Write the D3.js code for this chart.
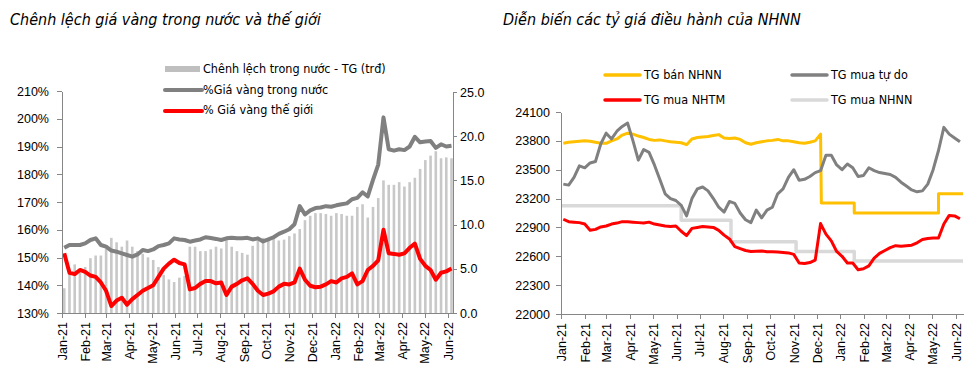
<!DOCTYPE html>
<html><head><meta charset="utf-8">
<script src="https://cdn.jsdelivr.net/npm/d3@7"></script>
<style>
body{margin:0;background:#fff;}
svg{display:block;font-family:"Liberation Sans Narrow","Arial Narrow","DejaVu Sans Condensed",sans-serif;}
.axis path,.axis line{stroke:#868686;stroke-width:1;shape-rendering:crispEdges;}
.axis text{fill:#000;font-size:12.5px;}
</style></head>
<body><div id="chart"></div>
<script>
// ---------- weekly dates (Mondays) Jan 4 2021 .. Jun 6 2022 ----------
const weeks = d3.timeMonday.range(new Date(2021,0,4), new Date(2022,5,7));
const monthTicks = d3.timeMonth.range(new Date(2021,0,1), new Date(2022,5,2));

// ---------- left chart data ----------
const domesticPct = [153.5,154.5,154.5,154.5,155.1,156.3,156.9,154.5,153.9,152.5,
152.1,151.5,150.9,150.3,151.1,152.7,152.3,152.9,154.1,154.5,
155.1,156.9,156.5,156.3,155.7,156.1,156.5,157.3,157.0,156.7,
156.3,156.9,157.1,156.9,156.9,157.1,156.5,156.9,
155.8,156.5,157.3,158.5,159.3,160.2,162.0,168.5,165.5,167.0,
167.8,168.0,168.5,168.3,168.8,169.2,169.5,171.0,171.5,173.5,
172.0,178.0,183.5,200.5,189.0,188.5,189.0,188.7,190.0,193.5,
191.5,191.8,192.0,189.5,190.8,190.0,190.3];
const worldPct = [151.5,144.5,144.0,145.5,144.8,143.5,143.0,141.0,138.0,132.5,
134.5,135.5,133.0,135.0,136.5,138.0,139.0,140.0,143.0,146.0,
147.8,149.2,148.0,147.5,138.5,139.0,140.5,141.5,141.5,140.7,
141.0,136.5,139.5,140.5,141.8,142.5,140.5,138.0,
136.5,137.0,137.8,139.5,140.5,140.3,141.0,146.0,142.0,139.8,
139.3,139.5,140.3,141.5,141.0,142.5,143.0,144.3,140.3,141.5,
145.5,147.0,149.0,160.0,151.5,151.3,151.0,151.5,153.5,155.0,
149.5,147.0,145.5,142.0,144.5,145.0,146.0];
const spreadBars = [2.8,5.0,5.5,4.8,5.2,6.2,6.5,6.5,7.3,8.5,
8.0,7.5,8.2,7.5,7.0,6.7,6.3,6.0,5.2,4.3,
3.8,3.5,4.0,4.2,7.5,7.5,7.0,7.0,7.2,7.5,
7.3,8.5,7.5,7.0,6.8,6.6,7.6,8.3,
8.5,8.5,8.5,8.2,8.3,8.7,9.0,9.5,10.5,11.0,
11.3,11.3,11.2,11.0,11.3,11.2,11.0,11.0,12.0,12.3,
10.8,12.0,13.0,15.0,14.5,14.5,14.8,14.3,14.8,15.3,
16.3,17.3,17.8,18.3,17.5,17.6,17.5];
const leftTicksPct = [130,140,150,160,170,180,190,200,210];
const rightTicksTrd = [0,5,10,15,20,25];

// ---------- right chart data ----------
const sellRateDaily = [23775,23785,23790,23795,23800,23795,23785,23775,23775,23800,
23820,23860,23880,23870,23850,23835,23815,23805,23810,23800,
23790,23785,23780,23760,23820,23835,23840,23845,23855,23865,
23830,23825,23830,23815,23780,23765,23780,23790,23800,23805,
23815,23800,23800,23790,23780,23775,23785,23800,23870];
const sellStepDates = ["2021-12-07","2022-01-19","2022-05-09","2022-06-10"];
const sellStepValues = [23155,23050,23250,23250];
const freeRate = [23350,23340,23420,23540,23520,23570,23585,23770,23880,23820,
23900,23950,23985,23800,23600,23710,23680,23550,23400,23250,
23200,23180,23130,23020,23200,23300,23320,23280,23200,23110,
23060,23170,23150,23050,22980,22950,23080,23000,23080,23110,
23250,23300,23420,23500,23390,23400,23430,23470,23490,23650,
23650,23550,23500,23560,23520,23430,23440,23520,23490,23470,
23460,23450,23420,23370,23330,23290,23270,23280,23350,23500,
23700,23940,23870,23830,23790];
const bankRate = [22985,22960,22955,22950,22935,22870,22880,22905,22915,22935,
22945,22960,22960,22955,22950,22945,22955,22935,22925,22915,
22910,22915,22860,22815,22890,22900,22910,22905,22900,22870,
22820,22780,22700,22680,22660,22650,22652,22655,22648,22646,
22645,22640,22635,22620,22530,22525,22535,22560,22940,22830,
22760,22650,22600,22530,22530,22460,22470,22500,22580,22630,
22660,22690,22710,22705,22710,22715,22740,22775,22785,22790,
22790,22935,23025,23020,22990];
const sbvBuyDates = ["2021-01-01","2021-06-07","2021-08-11","2021-11-04","2022-01-19","2022-06-10"];
const sbvBuyValues = [23125,22975,22750,22650,22550,22550];
const rateTicks = [22000,22300,22600,22900,23200,23500,23800,24100];

const parse = d3.timeParse("%Y-%m-%d");
const fmtMonth = d3.timeFormat("%b-%y");

const svg = d3.select("#chart").append("svg").attr("width",974).attr("height",371);

// ================= LEFT CHART =================
const xL = d3.scaleTime().domain([new Date(2021,0,1), new Date(2022,5,8)]).range([62,453]);
const yL = d3.scaleLinear().domain([130,210]).range([313,91]);
const yR = d3.scaleLinear().domain([0,25]).range([313,92]);

svg.append("text").attr("x",10).attr("y",25).attr("font-size",16).attr("font-style","italic")
  .text("Chênh lệch giá vàng trong nước và thế giới");

const gL = svg.append("g");
gL.selectAll("rect.bar").data(weeks).join("rect").attr("class","bar")
  .attr("x",d=>xL(d)-1.3).attr("width",2.6)
  .attr("y",(d,i)=>yR(spreadBars[i])).attr("height",(d,i)=>yR(0)-yR(spreadBars[i]))
  .attr("fill","#c8c8c8");

const lineL = arr => d3.line().x((d,i)=>xL(weeks[i])).y((d,i)=>yL(arr[i]))(arr);
gL.append("path").attr("d",lineL(domesticPct)).attr("fill","none").attr("stroke","#808080").attr("stroke-width",4).attr("stroke-linejoin","round");
gL.append("path").attr("d",lineL(worldPct)).attr("fill","none").attr("stroke","#ff0000").attr("stroke-width",4).attr("stroke-linejoin","round");

const axXL = svg.append("g").attr("class","axis").attr("transform","translate(0,313)")
  .call(d3.axisBottom(xL).tickValues(monthTicks).tickFormat(fmtMonth).tickSize(5).tickSizeOuter(0));
axXL.selectAll("text").attr("transform","rotate(-90)").attr("x",-9).attr("y",0).attr("dy","0.35em").style("text-anchor","end");
svg.append("g").attr("class","axis").attr("transform","translate(62,0)")
  .call(d3.axisLeft(yL).tickValues(leftTicksPct).tickFormat(d=>d+"%").tickSize(5).tickPadding(8).tickSizeOuter(0));
svg.append("g").attr("class","axis").attr("transform","translate(453,0)")
  .call(d3.axisRight(yR).tickValues(rightTicksTrd).tickFormat(d3.format(".1f")).tickSize(4).tickPadding(3).tickSizeOuter(0));

// left legend
const legL = svg.append("g").attr("font-size",12.5);
legL.append("rect").attr("x",165).attr("y",66).attr("width",35).attr("height",6).attr("fill","#bfbfbf");
legL.append("text").attr("x",203).attr("y",69).attr("dy","0.35em").text("Chênh lệch trong nước - TG (trđ)");
legL.append("line").attr("x1",165).attr("x2",202).attr("y1",90).attr("y2",90).attr("stroke","#808080").attr("stroke-width",4).attr("stroke-linecap","round");
legL.append("text").attr("x",203).attr("y",90).attr("dy","0.35em").text("%Giá vàng trong nước");
legL.append("line").attr("x1",165).attr("x2",202).attr("y1",111).attr("y2",111).attr("stroke","#ff0000").attr("stroke-width",4).attr("stroke-linecap","round");
legL.append("text").attr("x",203).attr("y",110).attr("dy","0.35em").text("% Giá vàng thế giới");

// ================= RIGHT CHART =================
const xR = d3.scaleTime().domain([new Date(2021,0,1), new Date(2022,5,10)]).range([561,963]);
const yT = d3.scaleLinear().domain([22000,24100]).range([314,112]);

svg.append("text").attr("x",503).attr("y",25).attr("font-size",16).attr("font-style","italic")
  .text("Diễn biến các tỷ giá điều hành của NHNN");

const stepPts = (dates, vals) => {
  const pts = [];
  for (let i=0;i<dates.length;i++){
    pts.push([parse(dates[i]), vals[i]]);
    if (i<dates.length-1) pts.push([parse(dates[i+1]), vals[i]]);
  }
  return pts;
};
const lineR = d3.line().x(d=>xR(d[0])).y(d=>yT(d[1]));
const gR = svg.append("g").attr("fill","none").attr("stroke-width",3).attr("stroke-linejoin","round");

// TG mua NHNN (step)
gR.append("path").attr("d",lineR(stepPts(sbvBuyDates,sbvBuyValues))).attr("stroke","#d9d9d9").attr("stroke-width",3.5);
// TG bán NHNN
const sellPts = weeks.slice(0,sellRateDaily.length).map((d,i)=>[d,sellRateDaily[i]]).concat(stepPts(sellStepDates,sellStepValues));
gR.append("path").attr("d",lineR(sellPts)).attr("stroke","#ffc000");
// TG mua NHTM
gR.append("path").attr("d",lineR(weeks.map((d,i)=>[d,bankRate[i]]))).attr("stroke","#ff0000");
// TG mua tự do
gR.append("path").attr("d",lineR(weeks.map((d,i)=>[d,freeRate[i]]))).attr("stroke","#808080");

const axXR = svg.append("g").attr("class","axis").attr("transform","translate(0,314)")
  .call(d3.axisBottom(xR).tickValues(monthTicks).tickFormat(fmtMonth).tickSize(5).tickSizeOuter(0));
axXR.selectAll("text").attr("transform","rotate(-90)").attr("x",-9).attr("y",0).attr("dy","0.35em").style("text-anchor","end");
svg.append("g").attr("class","axis").attr("transform","translate(561,0)")
  .call(d3.axisLeft(yT).tickValues(rateTicks).tickFormat(d3.format("d")).tickSize(5).tickPadding(6).tickSizeOuter(0));

// right legend
const legR = svg.append("g").attr("font-size",12.5);
const legItems = [
  {t:"TG bán NHNN", c:"#ffc000", x:605, y:75},
  {t:"TG mua tự do", c:"#808080", x:792, y:75},
  {t:"TG mua NHTM", c:"#ff0000", x:605, y:100},
  {t:"TG mua NHNN", c:"#d9d9d9", x:792, y:100}
];
legItems.forEach(it=>{
  legR.append("line").attr("x1",it.x).attr("x2",it.x+35).attr("y1",it.y).attr("y2",it.y).attr("stroke",it.c).attr("stroke-width",3.5).attr("stroke-linecap","round");
  legR.append("text").attr("x",it.x+39).attr("y",it.y).attr("dy","0.35em").text(it.t);
});
</script></body></html>
